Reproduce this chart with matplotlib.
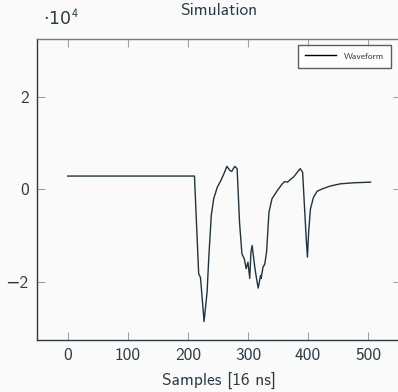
import matplotlib
matplotlib.use("Agg")
import matplotlib.pyplot as plt
from matplotlib.ticker import FuncFormatter

# waveform (sample index, ADC value)
samples = [0, 100, 211, 218, 221, 227, 232, 235, 239, 243, 249, 255, 260, 265,
           270, 273, 278, 282, 286, 290, 294, 297, 300, 303, 305, 307, 311, 313,
           317, 321, 322, 325, 328, 331, 335, 340, 349, 357, 361, 366, 371, 376,
           382, 387, 391, 394, 397, 399, 401, 404, 409, 415, 424, 437, 454, 476, 504]
values = [2900, 2900, 2900, -18200, -19000, -28500, -22200, -14300, -5600, -2000,
          500, 1950, 3400, 5000, 4100, 3900, 5000, 4500, -7100, -13900, -15000,
          -17100, -15700, -19200, -13500, -12100, -16400, -18200, -21300, -18600,
          -19200, -16800, -16100, -13500, -4900, -2000, -200, 1200, 1700, 1600,
          2200, 2700, 3700, 4500, 3700, -3500, -10700, -14600, -9200, -4200,
          -1700, -400, 150, 750, 1230, 1450, 1580]

xticks = [0, 100, 200, 300, 400, 500]
yticks = [-20000, 0, 20000]

text_col = "#2b3a42"
tick_col = "#9aa3a8"
bg = "#fafafa"

plt.rcParams['font.family'] = ['cmss10', 'DejaVu Sans']
plt.rcParams['axes.unicode_minus'] = False
plt.rcParams['mathtext.fontset'] = 'custom'
plt.rcParams['mathtext.rm'] = 'cmss10'
plt.rcParams['mathtext.it'] = 'cmss10'

fig = plt.figure(figsize=(3.98, 3.92), dpi=100, facecolor=bg)
ax = fig.add_axes([0.093, 0.1327, 0.915, 0.7678], facecolor=bg)

ax.plot(samples, values, color="#22333b", lw=1.0, label="Waveform")

ax.set_xlim(-51, 555)
ax.set_ylim(-32500, 32500)
ax.set_xticks(xticks)
ax.set_yticks(yticks)
ax.yaxis.set_major_formatter(FuncFormatter(
    lambda v, p: ("\u2212" if v < 0 else "") + "%d" % abs(round(v / 1e4))))

ax.tick_params(direction="in", length=6, width=0.8, color=tick_col,
               labelcolor=text_col, labelsize=12.5, top=True, right=True, pad=6)

for s in ["left", "bottom"]:
    ax.spines[s].set_color(text_col)
    ax.spines[s].set_linewidth(1.0)
ax.spines["top"].set_color("#6f7c84")
ax.spines["top"].set_linewidth(1.0)
ax.spines["right"].set_visible(False)

ax.set_xlabel("Samples [16 ns]", fontsize=12.5, color=text_col, labelpad=7)
ax.set_title("Simulation", fontsize=12.5, color=text_col, pad=17)
fig.text(0.107, 0.925, "\u00b710$^{4}$", fontsize=12.5, color=text_col,
         ha="left", va="bottom", family=["DejaVu Sans"])

leg = ax.legend(loc="upper right", fontsize=6.8, frameon=True, fancybox=False,
                handlelength=3.3, borderpad=0.75, borderaxespad=0,
                bbox_to_anchor=(0.972, 0.98))
leg.get_frame().set_edgecolor(text_col)
leg.get_frame().set_linewidth(1.0)
leg.get_frame().set_facecolor("white")
for t in leg.get_texts():
    t.set_color(text_col)
leg.get_lines()[0].set_color("black")

fig.savefig("out.png", dpi=100, facecolor=bg)
